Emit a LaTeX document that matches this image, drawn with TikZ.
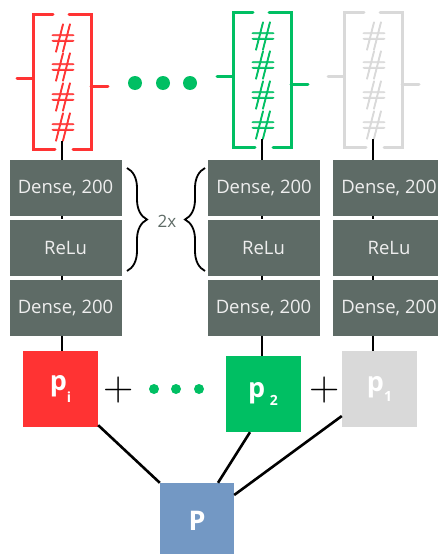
\documentclass[tikz,border=0pt]{standalone}
\usepackage{fontspec}
\setmainfont{Open Sans}
\newfontfamily\thinfont{Latin Modern Roman}
\newfontfamily\hashfont{Latin Modern Roman}[FakeBold=2.2]
\usetikzlibrary{decorations.pathreplacing}

\definecolor{netred}{HTML}{FF3333}
\definecolor{netgreen}{HTML}{00BF63}
\definecolor{netgray}{HTML}{D9D9D9}
\definecolor{layergray}{HTML}{5E6B66}
\definecolor{layertext}{HTML}{EEEEEE}
\definecolor{netblue}{HTML}{7398C4}

\tikzset{
  layer/.style={fill=layergray, text=layertext, minimum width=112pt, minimum height=56pt,
    inner sep=0pt, font=\fontsize{18.5}{18.5}\selectfont},
  probbox/.style={minimum width=75pt, minimum height=76pt, inner sep=0pt, text=white,
    font=\fontsize{27}{27}\selectfont\bfseries},
  wire/.style={line width=2.6pt, black},
  bracketline/.style={line width=3pt, line cap=round},
  hashmark/.style={font=\hashfont\fontsize{32}{32}\selectfont, inner sep=0pt,
    text height=19pt, text depth=3pt},
  plusmark/.style={font=\thinfont\fontsize{42}{42}\selectfont, inner sep=0pt},
  bigdot/.style={circle, inner sep=0pt, minimum size=14pt, fill=netgreen},
  smalldot/.style={circle, inner sep=0pt, minimum size=10pt, fill=netgreen},
  curly/.style={decorate, decoration={brace, amplitude=20pt}, line width=1.8pt},
}

% bracketed hash column: #1 colour, #2 name prefix
\newcommand{\hashstack}[2]{%
  \draw[bracketline, #1] (20,0) -- (0,0) -- (0,135) -- (22,135);
  \draw[bracketline, #1] (36,0) -- (58,0) -- (58,135) -- (40,135);
  \draw[bracketline, #1] (-16,64) -- (0,64);
  \draw[bracketline, #1] (58,72) -- (75,72);
  \node[hashmark, text=#1] (#2h1) at (30,24) {\#};
  \node[hashmark, text=#1] (#2h2) at (30,53) {\#};
  \node[hashmark, text=#1] (#2h3) at (30,83) {\#};
  \node[hashmark, text=#1] (#2h4) at (30,113) {\#};
  \coordinate (#2out) at (29,127);
}

\begin{document}
\begin{tikzpicture}[x=1pt, y=-1pt]
\useasboundingbox (0,0) rectangle (438,554);

% input columns
\begin{scope}[shift={(33,14)}]\hashstack{netred}{a}\end{scope}
\begin{scope}[shift={(233,12)}]\hashstack{netgreen}{b}\end{scope}
\begin{scope}[shift={(344,12)}]\hashstack{netgray}{c}\end{scope}

\node[bigdot] (td1) at (135,83) {};
\node[bigdot] (td2) at (163,83) {};
\node[bigdot] (td3) at (190,83) {};

% layer stacks
\node[layer] (ad1) at (65.5,188) {Dense, 200};
\node[layer] (ar)  at (65.5,247.5) {ReLu};
\node[layer] (ad2) at (65.5,308) {Dense, 200};

\node[layer] (bd1) at (264,188) {Dense, 200};
\node[layer] (br)  at (263.5,247.5) {ReLu};
\node[layer] (bd2) at (263.5,308) {Dense, 200};

\node[layer] (cd1) at (389,188) {Dense, 200};
\node[layer] (cr)  at (389,247.5) {ReLu};
\node[layer] (cd2) at (389,308) {Dense, 200};

% per-model outputs
\node[probbox, fill=netred] (pi) at (60.5,389) {p\raisebox{-0.45em}{\fontsize{14}{14}\selectfont i}};
\node[probbox, fill=netgreen] (p2) at (263,394) {p\,\raisebox{-0.3em}{\fontsize{14}{14}\selectfont 2}};
\node[probbox, fill=netgray] (p1) at (379.5,389) {p\raisebox{-0.35em}{\fontsize{14}{14}\selectfont 1}};
\node[probbox, fill=netblue, minimum width=74pt] (P) at (197,521) {P};

\node[plusmark] (plus1) at (119,390) {+};
\node[plusmark] (plus2) at (325,390) {+};
\node[smalldot] (bd1dot) at (154,389) {};
\node[smalldot] (bd2dot) at (176,389) {};
\node[smalldot] (bd3dot) at (199,389) {};

% wires through each stack
\draw[wire] (aout) -- (aout |- ad1.north);
\draw[wire] (aout |- ad1.south) -- (aout |- ar.north);
\draw[wire] (aout |- ar.south) -- (aout |- ad2.north);
\draw[wire] (aout |- ad2.south) -- (aout |- pi.north);

\draw[wire] (bout) -- (bout |- bd1.north);
\draw[wire] (bout |- bd1.south) -- (bout |- br.north);
\draw[wire] (bout |- br.south) -- (bout |- bd2.north);
\draw[wire] (bout |- bd2.south) -- (bout |- p2.north);

\draw[wire] (cout) -- (cout |- cd1.north);
\draw[wire] (cout |- cd1.south) -- (cout |- cr.north);
\draw[wire] (cout |- cr.south) -- (cout |- cd2.north);
\draw[wire] (cout |- cd2.south) -- (cout |- p1.north);

% combination
\draw[wire] ([yshift=2pt]pi.south east) -- (P.north west);
\draw[wire] ([xshift=-13pt]p2.south) -- ([xshift=21pt]P.north);
\draw[wire] ([yshift=-27pt]p1.west) -- ([yshift=26pt]P.east);

% repetition braces
\draw[curly] (127,168) -- (127,271);
\node[text=layergray, font=\fontsize{17}{17}\selectfont] (rep) at (167,221) {2x};
\draw[curly] (205,271) -- (205,168);
\end{tikzpicture}
\end{document}
